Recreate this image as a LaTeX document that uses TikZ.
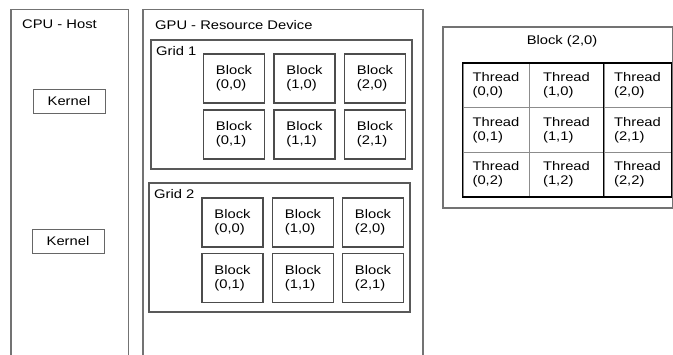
\documentclass[tikz,border=0pt]{standalone}
\usepackage{fontspec}
\setmainfont{Liberation Sans}[FakeStretch=1.18]
\newcommand\dfont{\fontsize{12.5}{14}\selectfont}
\begin{document}
\begin{tikzpicture}[x=1pt,y=-1pt,
  box/.style={draw=black!60, line width=1pt, inner sep=0pt},
  outerbox/.style={box, draw=black!55, line width=1.2pt},
  gridbox/.style={box, draw=black!65, line width=1.1pt},
  blk/.style={box, draw=black!70, line width=1.1pt, minimum width=61pt, minimum height=49pt, align=left, font=\dfont},
  kern/.style={box, draw=black!60, minimum width=72pt, minimum height=24pt, font=\dfont},
  cell/.style={draw=black!45, line width=0.8pt, inner sep=0pt, align=left, font=\dfont},
  lbl/.style={anchor=west, inner sep=0pt, font=\dfont},
  tbl/.style={draw=black, line width=1.4pt}]
\useasboundingbox (0,0) rectangle (673,354);
\begin{scope}
\clip (0,0) rectangle (673,354);
% CPU host
\draw[outerbox] (11,9.5) coordinate (cpuNW) rectangle (128.5,370) coordinate (cpuSE);
\node[lbl] (cpulbl) at (22,24) {CPU - Host};
\node[kern] (k1) at (69,101) {Kernel};
\node[kern] (k2) at (68,241) {Kernel};
% GPU device
\draw[outerbox] (143,9.5) coordinate (gpuNW) rectangle (423,370) coordinate (gpuSE);
\node[lbl] (gpulbl) at (155,25) {GPU - Resource Device};
% Grid 1
\draw[gridbox] (151,40) coordinate (g1NW) rectangle (412,169) coordinate (g1SE);
\node[lbl] (g1lbl) at (156,51) {Grid 1};
\node[blk] (a00) at (234,78.5) {Block\\(0,0)};
\node[blk] (a10) at (304.5,78.5) {Block\\(1,0)};
\node[blk] (a20) at (375,78.5) {Block\\(2,0)};
\node[blk] (a01) at (234,134.5) {Block\\(0,1)};
\node[blk] (a11) at (304.5,134.5) {Block\\(1,1)};
\node[blk] (a21) at (375,134.5) {Block\\(2,1)};
% Grid 2
\draw[gridbox] (149,183) coordinate (g2NW) rectangle (410,312) coordinate (g2SE);
\node[lbl] (g2lbl) at (154,194) {Grid 2};
\node[blk] (b00) at (232.5,222.5) {Block\\(0,0)};
\node[blk] (b10) at (303,222.5) {Block\\(1,0)};
\node[blk] (b20) at (373,222.5) {Block\\(2,0)};
\node[blk] (b01) at (232.5,278) {Block\\(0,1)};
\node[blk] (b11) at (303,278) {Block\\(1,1)};
\node[blk] (b21) at (373,278) {Block\\(2,1)};
% Block (2,0) detail
\draw[outerbox] (443,27) coordinate (dNW) rectangle (672.4,208) coordinate (dSE);
\node[font=\dfont, inner sep=0pt] (dtitle) at (562,41) {Block (2,0)};
\foreach \c/\x/\w in {0/496/66,1/566.5/75,2/637.5/67}{
  \foreach \r/\y in {0/85.5,1/130,2/174.5}{
    \node[cell, minimum width=\w pt, minimum height=44.5pt] (t\c\r) at (\x,\y) {Thread\\(\c,\r)};
  }
}
\draw[tbl] (t00.north west) rectangle (t22.south east);
\draw[tbl] (t20.north west) -- (t22.south west);
\end{scope}
\end{tikzpicture}
\end{document}
